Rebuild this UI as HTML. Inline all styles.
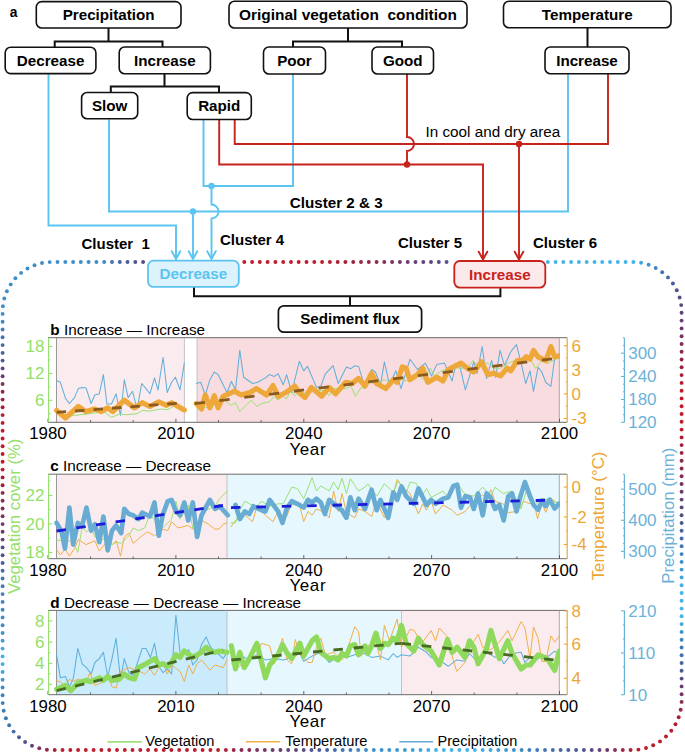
<!DOCTYPE html>
<html><head><meta charset="utf-8"><title>Figure</title>
<style>
html,body{margin:0;padding:0;background:#fff;}
body{width:685px;height:753px;overflow:hidden;font-family:"Liberation Sans",sans-serif;}
svg{display:block;}
</style></head><body>
<svg width="685" height="753" viewBox="0 0 685 753">
<rect width="685" height="753" fill="#fff"/>
<g>
<circle cx="57.5" cy="262.0" r="1.95" fill="rgb(61, 143, 201)"/>
<circle cx="65.3" cy="262.0" r="1.95" fill="rgb(61, 143, 201)"/>
<circle cx="73.1" cy="262.0" r="1.95" fill="rgb(61, 143, 201)"/>
<circle cx="80.8" cy="262.0" r="1.95" fill="rgb(61, 143, 201)"/>
<circle cx="88.6" cy="262.0" r="1.95" fill="rgb(61, 143, 201)"/>
<circle cx="96.4" cy="262.0" r="1.95" fill="rgb(61, 143, 201)"/>
<circle cx="104.2" cy="262.0" r="1.95" fill="rgb(63, 136, 196)"/>
<circle cx="112.0" cy="262.0" r="1.95" fill="rgb(68, 112, 176)"/>
<circle cx="119.8" cy="262.0" r="1.95" fill="rgb(71, 101, 162)"/>
<circle cx="127.5" cy="262.0" r="1.95" fill="rgb(74, 91, 149)"/>
<circle cx="135.3" cy="262.0" r="1.95" fill="rgb(81, 83, 139)"/>
<circle cx="143.1" cy="262.0" r="1.95" fill="rgb(89, 75, 129)"/>
<circle cx="244.3" cy="262.0" r="1.95" fill="rgb(188, 28, 44)"/>
<circle cx="252.1" cy="262.0" r="1.95" fill="rgb(188, 28, 44)"/>
<circle cx="259.8" cy="262.0" r="1.95" fill="rgb(188, 28, 44)"/>
<circle cx="267.6" cy="262.0" r="1.95" fill="rgb(188, 28, 44)"/>
<circle cx="275.4" cy="262.0" r="1.95" fill="rgb(188, 28, 44)"/>
<circle cx="283.2" cy="262.0" r="1.95" fill="rgb(188, 28, 44)"/>
<circle cx="291.0" cy="262.0" r="1.95" fill="rgb(188, 28, 44)"/>
<circle cx="298.7" cy="262.0" r="1.95" fill="rgb(188, 28, 44)"/>
<circle cx="306.5" cy="262.0" r="1.95" fill="rgb(188, 28, 44)"/>
<circle cx="314.3" cy="262.0" r="1.95" fill="rgb(188, 28, 44)"/>
<circle cx="322.1" cy="262.0" r="1.95" fill="rgb(188, 28, 44)"/>
<circle cx="329.9" cy="262.0" r="1.95" fill="rgb(183, 29, 46)"/>
<circle cx="337.7" cy="262.0" r="1.95" fill="rgb(174, 30, 50)"/>
<circle cx="345.4" cy="262.0" r="1.95" fill="rgb(165, 31, 54)"/>
<circle cx="353.2" cy="262.0" r="1.95" fill="rgb(157, 33, 59)"/>
<circle cx="361.0" cy="262.0" r="1.95" fill="rgb(150, 36, 67)"/>
<circle cx="368.8" cy="262.0" r="1.95" fill="rgb(143, 40, 74)"/>
<circle cx="376.6" cy="262.0" r="1.95" fill="rgb(136, 43, 82)"/>
<circle cx="384.3" cy="262.0" r="1.95" fill="rgb(129, 47, 89)"/>
<circle cx="392.1" cy="262.0" r="1.95" fill="rgb(121, 50, 97)"/>
<circle cx="399.9" cy="262.0" r="1.95" fill="rgb(114, 54, 104)"/>
<circle cx="407.7" cy="262.0" r="1.95" fill="rgb(106, 58, 112)"/>
<circle cx="415.5" cy="262.0" r="1.95" fill="rgb(102, 62, 116)"/>
<circle cx="423.3" cy="262.0" r="1.95" fill="rgb(98, 66, 120)"/>
<circle cx="431.0" cy="262.0" r="1.95" fill="rgb(94, 70, 124)"/>
<circle cx="438.8" cy="262.0" r="1.95" fill="rgb(91, 73, 127)"/>
<circle cx="446.6" cy="262.0" r="1.95" fill="rgb(88, 83, 137)"/>
<circle cx="547.8" cy="262.0" r="1.95" fill="rgb(69, 180, 234)"/>
<circle cx="555.6" cy="262.0" r="1.95" fill="rgb(69, 180, 234)"/>
<circle cx="563.3" cy="262.0" r="1.95" fill="rgb(69, 180, 234)"/>
<circle cx="571.1" cy="262.0" r="1.95" fill="rgb(69, 180, 234)"/>
<circle cx="578.9" cy="262.0" r="1.95" fill="rgb(69, 180, 234)"/>
<circle cx="586.7" cy="262.0" r="1.95" fill="rgb(69, 180, 234)"/>
<circle cx="594.5" cy="262.0" r="1.95" fill="rgb(69, 180, 234)"/>
<circle cx="602.2" cy="262.0" r="1.95" fill="rgb(69, 180, 234)"/>
<circle cx="610.0" cy="262.0" r="1.95" fill="rgb(69, 180, 234)"/>
<circle cx="617.8" cy="262.0" r="1.95" fill="rgb(69, 180, 234)"/>
<circle cx="625.6" cy="262.0" r="1.95" fill="rgb(69, 180, 234)"/>
<circle cx="633.4" cy="262.0" r="1.95" fill="rgb(69, 180, 234)"/>
<circle cx="641.1" cy="262.8" r="1.95" fill="rgb(66, 167, 223)"/>
<circle cx="648.6" cy="264.8" r="1.95" fill="rgb(62, 149, 206)"/>
<circle cx="655.7" cy="268.0" r="1.95" fill="rgb(64, 131, 192)"/>
<circle cx="662.2" cy="272.2" r="1.95" fill="rgb(67, 115, 178)"/>
<circle cx="668.0" cy="277.4" r="1.95" fill="rgb(71, 103, 164)"/>
<circle cx="672.9" cy="283.5" r="1.95" fill="rgb(74, 91, 150)"/>
<circle cx="676.8" cy="290.2" r="1.95" fill="rgb(79, 85, 141)"/>
<circle cx="679.6" cy="297.5" r="1.95" fill="rgb(86, 78, 134)"/>
<circle cx="681.2" cy="305.1" r="1.95" fill="rgb(91, 73, 127)"/>
<circle cx="681.6" cy="312.8" r="1.95" fill="rgb(97, 67, 121)"/>
<circle cx="681.6" cy="320.6" r="1.95" fill="rgb(102, 62, 116)"/>
<circle cx="681.6" cy="328.4" r="1.95" fill="rgb(109, 56, 109)"/>
<circle cx="681.6" cy="336.2" r="1.95" fill="rgb(119, 51, 99)"/>
<circle cx="681.6" cy="344.0" r="1.95" fill="rgb(129, 47, 89)"/>
<circle cx="681.6" cy="351.7" r="1.95" fill="rgb(139, 42, 79)"/>
<circle cx="681.6" cy="359.5" r="1.95" fill="rgb(148, 37, 69)"/>
<circle cx="681.6" cy="367.3" r="1.95" fill="rgb(158, 33, 58)"/>
<circle cx="681.6" cy="375.1" r="1.95" fill="rgb(168, 31, 53)"/>
<circle cx="681.6" cy="382.9" r="1.95" fill="rgb(178, 29, 48)"/>
<circle cx="681.6" cy="390.7" r="1.95" fill="rgb(188, 28, 44)"/>
<circle cx="681.6" cy="398.4" r="1.95" fill="rgb(188, 28, 44)"/>
<circle cx="681.6" cy="406.2" r="1.95" fill="rgb(188, 28, 44)"/>
<circle cx="681.6" cy="414.0" r="1.95" fill="rgb(188, 28, 44)"/>
<circle cx="681.6" cy="421.8" r="1.95" fill="rgb(188, 28, 44)"/>
<circle cx="681.6" cy="429.6" r="1.95" fill="rgb(188, 28, 44)"/>
<circle cx="681.6" cy="437.4" r="1.95" fill="rgb(174, 30, 50)"/>
<circle cx="681.6" cy="445.1" r="1.95" fill="rgb(160, 32, 56)"/>
<circle cx="681.6" cy="452.9" r="1.95" fill="rgb(153, 35, 64)"/>
<circle cx="681.6" cy="460.7" r="1.95" fill="rgb(146, 39, 72)"/>
<circle cx="681.6" cy="468.5" r="1.95" fill="rgb(138, 42, 79)"/>
<circle cx="681.6" cy="476.3" r="1.95" fill="rgb(129, 47, 89)"/>
<circle cx="681.6" cy="484.0" r="1.95" fill="rgb(119, 52, 99)"/>
<circle cx="681.6" cy="491.8" r="1.95" fill="rgb(109, 57, 109)"/>
<circle cx="681.6" cy="499.6" r="1.95" fill="rgb(100, 64, 119)"/>
<circle cx="681.6" cy="507.4" r="1.95" fill="rgb(91, 73, 129)"/>
<circle cx="681.6" cy="515.2" r="1.95" fill="rgb(83, 81, 138)"/>
<circle cx="681.6" cy="523.0" r="1.95" fill="rgb(74, 90, 148)"/>
<circle cx="681.6" cy="530.7" r="1.95" fill="rgb(72, 99, 159)"/>
<circle cx="681.6" cy="538.5" r="1.95" fill="rgb(69, 107, 170)"/>
<circle cx="681.6" cy="546.3" r="1.95" fill="rgb(67, 117, 180)"/>
<circle cx="681.6" cy="554.1" r="1.95" fill="rgb(64, 130, 191)"/>
<circle cx="681.6" cy="561.9" r="1.95" fill="rgb(61, 143, 201)"/>
<circle cx="681.6" cy="569.6" r="1.95" fill="rgb(63, 154, 211)"/>
<circle cx="681.6" cy="577.4" r="1.95" fill="rgb(66, 166, 221)"/>
<circle cx="681.6" cy="585.2" r="1.95" fill="rgb(68, 177, 232)"/>
<circle cx="681.6" cy="593.0" r="1.95" fill="rgb(69, 180, 234)"/>
<circle cx="681.6" cy="600.8" r="1.95" fill="rgb(69, 180, 234)"/>
<circle cx="681.6" cy="608.6" r="1.95" fill="rgb(69, 180, 234)"/>
<circle cx="681.6" cy="616.3" r="1.95" fill="rgb(69, 180, 234)"/>
<circle cx="681.6" cy="624.1" r="1.95" fill="rgb(66, 166, 222)"/>
<circle cx="681.6" cy="631.9" r="1.95" fill="rgb(62, 146, 204)"/>
<circle cx="681.6" cy="639.7" r="1.95" fill="rgb(63, 134, 194)"/>
<circle cx="681.6" cy="647.5" r="1.95" fill="rgb(65, 123, 185)"/>
<circle cx="681.6" cy="655.3" r="1.95" fill="rgb(68, 113, 177)"/>
<circle cx="681.6" cy="663.0" r="1.95" fill="rgb(71, 102, 164)"/>
<circle cx="681.6" cy="670.8" r="1.95" fill="rgb(74, 92, 150)"/>
<circle cx="681.6" cy="678.6" r="1.95" fill="rgb(87, 77, 133)"/>
<circle cx="681.6" cy="686.4" r="1.95" fill="rgb(103, 61, 116)"/>
<circle cx="681.6" cy="694.2" r="1.95" fill="rgb(118, 52, 100)"/>
<circle cx="681.6" cy="701.9" r="1.95" fill="rgb(134, 44, 84)"/>
<circle cx="680.7" cy="709.7" r="1.95" fill="rgb(149, 37, 68)"/>
<circle cx="678.7" cy="717.2" r="1.95" fill="rgb(164, 31, 54)"/>
<circle cx="675.5" cy="724.3" r="1.95" fill="rgb(175, 30, 50)"/>
<circle cx="671.3" cy="730.8" r="1.95" fill="rgb(186, 28, 45)"/>
<circle cx="666.0" cy="736.5" r="1.95" fill="rgb(188, 28, 44)"/>
<circle cx="660.0" cy="741.4" r="1.95" fill="rgb(188, 28, 44)"/>
<circle cx="653.2" cy="745.3" r="1.95" fill="rgb(188, 28, 44)"/>
<circle cx="646.0" cy="748.0" r="1.95" fill="rgb(188, 28, 44)"/>
<circle cx="638.4" cy="749.6" r="1.95" fill="rgb(188, 28, 44)"/>
<circle cx="630.6" cy="750.0" r="1.95" fill="rgb(180, 30, 50)"/>
<circle cx="622.8" cy="750.0" r="1.95" fill="rgb(154, 38, 68)"/>
<circle cx="615.0" cy="750.0" r="1.95" fill="rgb(132, 45, 86)"/>
<circle cx="607.2" cy="750.0" r="1.95" fill="rgb(115, 53, 103)"/>
<circle cx="599.5" cy="750.0" r="1.95" fill="rgb(101, 63, 117)"/>
<circle cx="591.7" cy="750.0" r="1.95" fill="rgb(92, 72, 128)"/>
<circle cx="583.9" cy="750.0" r="1.95" fill="rgb(82, 82, 140)"/>
<circle cx="576.1" cy="750.0" r="1.95" fill="rgb(74, 91, 150)"/>
<circle cx="568.3" cy="750.0" r="1.95" fill="rgb(72, 97, 157)"/>
<circle cx="560.6" cy="750.0" r="1.95" fill="rgb(71, 103, 164)"/>
<circle cx="552.8" cy="750.0" r="1.95" fill="rgb(69, 109, 172)"/>
<circle cx="545.0" cy="750.0" r="1.95" fill="rgb(67, 115, 178)"/>
<circle cx="537.2" cy="750.0" r="1.95" fill="rgb(66, 122, 184)"/>
<circle cx="529.4" cy="750.0" r="1.95" fill="rgb(64, 129, 190)"/>
<circle cx="521.6" cy="750.0" r="1.95" fill="rgb(62, 137, 196)"/>
<circle cx="513.9" cy="750.0" r="1.95" fill="rgb(61, 144, 202)"/>
<circle cx="506.1" cy="750.0" r="1.95" fill="rgb(63, 152, 209)"/>
<circle cx="498.3" cy="750.0" r="1.95" fill="rgb(65, 160, 216)"/>
<circle cx="490.5" cy="750.0" r="1.95" fill="rgb(66, 167, 223)"/>
<circle cx="482.7" cy="750.0" r="1.95" fill="rgb(68, 175, 230)"/>
<circle cx="474.9" cy="750.0" r="1.95" fill="rgb(69, 180, 234)"/>
<circle cx="467.2" cy="750.0" r="1.95" fill="rgb(69, 180, 234)"/>
<circle cx="459.4" cy="750.0" r="1.95" fill="rgb(69, 180, 234)"/>
<circle cx="451.6" cy="750.0" r="1.95" fill="rgb(69, 180, 234)"/>
<circle cx="443.8" cy="750.0" r="1.95" fill="rgb(69, 180, 234)"/>
<circle cx="436.0" cy="750.0" r="1.95" fill="rgb(68, 179, 233)"/>
<circle cx="428.3" cy="750.0" r="1.95" fill="rgb(66, 173, 228)"/>
<circle cx="420.5" cy="750.0" r="1.95" fill="rgb(64, 167, 224)"/>
<circle cx="412.7" cy="750.0" r="1.95" fill="rgb(62, 161, 219)"/>
<circle cx="404.9" cy="750.0" r="1.95" fill="rgb(59, 156, 215)"/>
<circle cx="397.1" cy="750.0" r="1.95" fill="rgb(58, 151, 211)"/>
<circle cx="389.3" cy="750.0" r="1.95" fill="rgb(59, 149, 209)"/>
<circle cx="381.6" cy="750.0" r="1.95" fill="rgb(60, 147, 206)"/>
<circle cx="373.8" cy="750.0" r="1.95" fill="rgb(60, 145, 204)"/>
<circle cx="366.0" cy="750.0" r="1.95" fill="rgb(61, 143, 201)"/>
<circle cx="358.2" cy="750.0" r="1.95" fill="rgb(63, 135, 194)"/>
<circle cx="350.4" cy="750.0" r="1.95" fill="rgb(65, 125, 186)"/>
<circle cx="342.7" cy="750.0" r="1.95" fill="rgb(67, 115, 179)"/>
<circle cx="334.9" cy="750.0" r="1.95" fill="rgb(69, 107, 169)"/>
<circle cx="327.1" cy="750.0" r="1.95" fill="rgb(72, 99, 160)"/>
<circle cx="319.3" cy="750.0" r="1.95" fill="rgb(74, 91, 150)"/>
<circle cx="311.5" cy="750.0" r="1.95" fill="rgb(80, 84, 141)"/>
<circle cx="303.7" cy="750.0" r="1.95" fill="rgb(87, 77, 132)"/>
<circle cx="296.0" cy="750.0" r="1.95" fill="rgb(93, 71, 125)"/>
<circle cx="288.2" cy="750.0" r="1.95" fill="rgb(98, 66, 120)"/>
<circle cx="280.4" cy="750.0" r="1.95" fill="rgb(103, 61, 115)"/>
<circle cx="272.6" cy="750.0" r="1.95" fill="rgb(108, 57, 110)"/>
<circle cx="264.8" cy="750.0" r="1.95" fill="rgb(115, 53, 103)"/>
<circle cx="257.1" cy="750.0" r="1.95" fill="rgb(122, 50, 96)"/>
<circle cx="249.3" cy="750.0" r="1.95" fill="rgb(130, 46, 88)"/>
<circle cx="241.5" cy="750.0" r="1.95" fill="rgb(137, 43, 81)"/>
<circle cx="233.7" cy="750.0" r="1.95" fill="rgb(155, 37, 67)"/>
<circle cx="225.9" cy="750.0" r="1.95" fill="rgb(177, 31, 52)"/>
<circle cx="218.1" cy="750.0" r="1.95" fill="rgb(188, 28, 44)"/>
<circle cx="210.4" cy="750.0" r="1.95" fill="rgb(188, 28, 44)"/>
<circle cx="202.6" cy="750.0" r="1.95" fill="rgb(188, 28, 44)"/>
<circle cx="194.8" cy="750.0" r="1.95" fill="rgb(188, 28, 44)"/>
<circle cx="187.0" cy="750.0" r="1.95" fill="rgb(188, 28, 44)"/>
<circle cx="179.2" cy="750.0" r="1.95" fill="rgb(188, 28, 44)"/>
<circle cx="171.4" cy="750.0" r="1.95" fill="rgb(188, 28, 44)"/>
<circle cx="163.7" cy="750.0" r="1.95" fill="rgb(188, 28, 44)"/>
<circle cx="155.9" cy="750.0" r="1.95" fill="rgb(188, 28, 44)"/>
<circle cx="148.1" cy="750.0" r="1.95" fill="rgb(188, 28, 44)"/>
<circle cx="140.3" cy="750.0" r="1.95" fill="rgb(188, 28, 44)"/>
<circle cx="132.5" cy="750.0" r="1.95" fill="rgb(188, 28, 44)"/>
<circle cx="124.8" cy="750.0" r="1.95" fill="rgb(188, 28, 44)"/>
<circle cx="117.0" cy="750.0" r="1.95" fill="rgb(188, 28, 44)"/>
<circle cx="109.2" cy="750.0" r="1.95" fill="rgb(188, 28, 44)"/>
<circle cx="101.4" cy="750.0" r="1.95" fill="rgb(188, 28, 44)"/>
<circle cx="93.6" cy="750.0" r="1.95" fill="rgb(188, 28, 44)"/>
<circle cx="85.8" cy="750.0" r="1.95" fill="rgb(188, 28, 44)"/>
<circle cx="78.1" cy="750.0" r="1.95" fill="rgb(188, 28, 44)"/>
<circle cx="70.3" cy="750.0" r="1.95" fill="rgb(188, 28, 44)"/>
<circle cx="62.5" cy="750.0" r="1.95" fill="rgb(188, 28, 44)"/>
<circle cx="54.7" cy="750.0" r="1.95" fill="rgb(172, 30, 51)"/>
<circle cx="46.9" cy="749.7" r="1.95" fill="rgb(148, 37, 69)"/>
<circle cx="39.3" cy="748.3" r="1.95" fill="rgb(121, 50, 97)"/>
<circle cx="32.0" cy="745.7" r="1.95" fill="rgb(98, 66, 120)"/>
<circle cx="25.1" cy="742.0" r="1.95" fill="rgb(82, 82, 138)"/>
<circle cx="19.0" cy="737.3" r="1.95" fill="rgb(74, 98, 154)"/>
<circle cx="13.6" cy="731.6" r="1.95" fill="rgb(70, 109, 164)"/>
<circle cx="9.2" cy="725.2" r="1.95" fill="rgb(62, 117, 172)"/>
<circle cx="5.9" cy="718.2" r="1.95" fill="rgb(58, 122, 179)"/>
<circle cx="3.7" cy="710.8" r="1.95" fill="rgb(58, 125, 183)"/>
<circle cx="2.7" cy="703.1" r="1.95" fill="rgb(58, 129, 188)"/>
<circle cx="2.6" cy="695.3" r="1.95" fill="rgb(59, 134, 194)"/>
<circle cx="2.6" cy="687.5" r="1.95" fill="rgb(61, 142, 200)"/>
<circle cx="2.6" cy="679.7" r="1.95" fill="rgb(63, 151, 208)"/>
<circle cx="2.6" cy="671.9" r="1.95" fill="rgb(65, 162, 218)"/>
<circle cx="2.6" cy="664.1" r="1.95" fill="rgb(67, 172, 227)"/>
<circle cx="2.6" cy="656.4" r="1.95" fill="rgb(69, 178, 232)"/>
<circle cx="2.6" cy="648.6" r="1.95" fill="rgb(67, 169, 224)"/>
<circle cx="2.6" cy="640.8" r="1.95" fill="rgb(65, 160, 216)"/>
<circle cx="2.6" cy="633.0" r="1.95" fill="rgb(63, 151, 208)"/>
<circle cx="2.6" cy="625.2" r="1.95" fill="rgb(61, 143, 201)"/>
<circle cx="2.6" cy="617.4" r="1.95" fill="rgb(64, 139, 198)"/>
<circle cx="2.6" cy="609.7" r="1.95" fill="rgb(66, 134, 195)"/>
<circle cx="2.6" cy="601.9" r="1.95" fill="rgb(68, 130, 192)"/>
<circle cx="2.6" cy="594.1" r="1.95" fill="rgb(70, 126, 189)"/>
<circle cx="2.6" cy="586.3" r="1.95" fill="rgb(73, 122, 186)"/>
<circle cx="2.6" cy="578.5" r="1.95" fill="rgb(74, 115, 178)"/>
<circle cx="2.6" cy="570.8" r="1.95" fill="rgb(74, 105, 166)"/>
<circle cx="2.6" cy="563.0" r="1.95" fill="rgb(74, 94, 153)"/>
<circle cx="2.6" cy="555.2" r="1.95" fill="rgb(80, 84, 142)"/>
<circle cx="2.6" cy="547.4" r="1.95" fill="rgb(89, 75, 131)"/>
<circle cx="2.6" cy="539.6" r="1.95" fill="rgb(98, 66, 121)"/>
<circle cx="2.6" cy="531.8" r="1.95" fill="rgb(107, 57, 111)"/>
<circle cx="2.6" cy="524.1" r="1.95" fill="rgb(115, 54, 103)"/>
<circle cx="2.6" cy="516.3" r="1.95" fill="rgb(122, 50, 96)"/>
<circle cx="2.6" cy="508.5" r="1.95" fill="rgb(130, 46, 88)"/>
<circle cx="2.6" cy="500.7" r="1.95" fill="rgb(137, 42, 81)"/>
<circle cx="2.6" cy="492.9" r="1.95" fill="rgb(148, 37, 69)"/>
<circle cx="2.6" cy="485.2" r="1.95" fill="rgb(160, 32, 56)"/>
<circle cx="2.6" cy="477.4" r="1.95" fill="rgb(175, 30, 49)"/>
<circle cx="2.6" cy="469.6" r="1.95" fill="rgb(188, 28, 44)"/>
<circle cx="2.6" cy="461.8" r="1.95" fill="rgb(188, 28, 44)"/>
<circle cx="2.6" cy="454.0" r="1.95" fill="rgb(188, 28, 44)"/>
<circle cx="2.6" cy="446.2" r="1.95" fill="rgb(188, 28, 44)"/>
<circle cx="2.6" cy="438.5" r="1.95" fill="rgb(188, 28, 44)"/>
<circle cx="2.6" cy="430.7" r="1.95" fill="rgb(188, 28, 44)"/>
<circle cx="2.6" cy="422.9" r="1.95" fill="rgb(183, 29, 46)"/>
<circle cx="2.6" cy="415.1" r="1.95" fill="rgb(175, 30, 50)"/>
<circle cx="2.6" cy="407.3" r="1.95" fill="rgb(166, 31, 53)"/>
<circle cx="2.6" cy="399.6" r="1.95" fill="rgb(156, 34, 61)"/>
<circle cx="2.6" cy="391.8" r="1.95" fill="rgb(141, 41, 76)"/>
<circle cx="2.6" cy="384.0" r="1.95" fill="rgb(122, 50, 96)"/>
<circle cx="2.6" cy="376.2" r="1.95" fill="rgb(103, 61, 115)"/>
<circle cx="2.6" cy="368.4" r="1.95" fill="rgb(91, 73, 129)"/>
<circle cx="2.6" cy="360.6" r="1.95" fill="rgb(78, 86, 143)"/>
<circle cx="2.6" cy="352.9" r="1.95" fill="rgb(72, 96, 156)"/>
<circle cx="2.6" cy="345.1" r="1.95" fill="rgb(70, 106, 168)"/>
<circle cx="2.6" cy="337.3" r="1.95" fill="rgb(67, 116, 179)"/>
<circle cx="2.6" cy="329.5" r="1.95" fill="rgb(65, 127, 188)"/>
<circle cx="2.6" cy="321.7" r="1.95" fill="rgb(62, 138, 197)"/>
<circle cx="2.6" cy="313.9" r="1.95" fill="rgb(61, 143, 201)"/>
<circle cx="2.9" cy="306.2" r="1.95" fill="rgb(61, 143, 201)"/>
<circle cx="4.3" cy="298.5" r="1.95" fill="rgb(61, 143, 201)"/>
<circle cx="6.9" cy="291.2" r="1.95" fill="rgb(61, 143, 201)"/>
<circle cx="10.7" cy="284.4" r="1.95" fill="rgb(61, 143, 201)"/>
<circle cx="15.4" cy="278.2" r="1.95" fill="rgb(61, 143, 201)"/>
<circle cx="21.1" cy="272.9" r="1.95" fill="rgb(61, 143, 201)"/>
<circle cx="27.5" cy="268.5" r="1.95" fill="rgb(61, 143, 201)"/>
<circle cx="34.5" cy="265.2" r="1.95" fill="rgb(61, 143, 201)"/>
<circle cx="42.0" cy="263.0" r="1.95" fill="rgb(61, 143, 201)"/>
<circle cx="49.7" cy="262.1" r="1.95" fill="rgb(61, 143, 201)"/>
</g>
<path d="M108.5,28 V41.5 M54.7,47 V41.5 H162.5 V47" fill="none" stroke="#111" stroke-width="2.0" stroke-linejoin="miter" />
<path d="M164.5,73 V86.5 M110.8,92.5 V86.5 H219 V92.5" fill="none" stroke="#111" stroke-width="2.0" stroke-linejoin="miter" />
<path d="M348,28 V41.5 M293,47 V41.5 H402 V47" fill="none" stroke="#111" stroke-width="2.0" stroke-linejoin="miter" />
<path d="M587.5,28 V47" fill="none" stroke="#111" stroke-width="2.0" stroke-linejoin="miter" />
<path d="M194,287 V296.2 H500.4 V288 M350,296.2 V305.8" fill="none" stroke="#111" stroke-width="2.0" stroke-linejoin="miter" />
<path d="M48.5,74 V225.5 H176 V257.5" fill="none" stroke="#5bc4f0" stroke-width="1.9" stroke-linejoin="miter" />
<path d="M109,119.5 V211.5 H568 V74" fill="none" stroke="#5bc4f0" stroke-width="1.9" stroke-linejoin="miter" />
<path d="M193,211.5 V257.5" fill="none" stroke="#5bc4f0" stroke-width="1.9" stroke-linejoin="miter" />
<path d="M203.5,119.5 V186 H293 V74" fill="none" stroke="#5bc4f0" stroke-width="1.9" stroke-linejoin="miter" />
<path d="M211.5,186 V204.5 A7,7 0 0 1 211.5,218.5 V257.5" fill="none" stroke="#5bc4f0" stroke-width="1.9" stroke-linejoin="miter" />
<path d="M171.7,251.2 L176,259 L180.3,251.2" fill="none" stroke="#5bc4f0" stroke-width="1.9" stroke-linecap="round" stroke-linejoin="miter"/>
<path d="M188.7,251.2 L193,259 L197.3,251.2" fill="none" stroke="#5bc4f0" stroke-width="1.9" stroke-linecap="round" stroke-linejoin="miter"/>
<path d="M207.2,251.2 L211.5,259 L215.8,251.2" fill="none" stroke="#5bc4f0" stroke-width="1.9" stroke-linecap="round" stroke-linejoin="miter"/>
<circle cx="193" cy="211.5" r="3.2" fill="#5bc4f0"/>
<circle cx="211.5" cy="186" r="3.2" fill="#5bc4f0"/>
<path d="M219.2,119.5 V164.5 H483 V258" fill="none" stroke="#c8221c" stroke-width="1.9" stroke-linejoin="miter" />
<path d="M234.7,119.5 V144 H608 V74" fill="none" stroke="#c8221c" stroke-width="1.9" stroke-linejoin="miter" />
<path d="M407,74 V137 A7,7 0 0 1 407,151 V164.5" fill="none" stroke="#c8221c" stroke-width="1.9" stroke-linejoin="miter" />
<path d="M519,144 V258" fill="none" stroke="#c8221c" stroke-width="1.9" stroke-linejoin="miter" />
<path d="M478.7,251.7 L483,259.5 L487.3,251.7" fill="none" stroke="#c8221c" stroke-width="1.9" stroke-linecap="round" stroke-linejoin="miter"/>
<path d="M514.7,251.7 L519,259.5 L523.3,251.7" fill="none" stroke="#c8221c" stroke-width="1.9" stroke-linecap="round" stroke-linejoin="miter"/>
<circle cx="407" cy="164.5" r="3.2" fill="#c8221c"/>
<circle cx="519" cy="144" r="3.2" fill="#c8221c"/>
<rect x="36.3" y="1.6" width="144.7" height="26.4" rx="5.5" ry="5.5" fill="#fff" stroke="#111" stroke-width="1.6"/>
<text x="108.65" y="20.196" text-anchor="middle" font-weight="bold" font-size="15.2" fill="#000" style="font-family:'Liberation Sans',sans-serif">Precipitation</text>
<rect x="5.2" y="47.2" width="90.7" height="26.39999999999999" rx="5.5" ry="5.5" fill="#fff" stroke="#111" stroke-width="1.6"/>
<text x="50.550000000000004" y="65.79599999999999" text-anchor="middle" font-weight="bold" font-size="15.2" fill="#000" style="font-family:'Liberation Sans',sans-serif">Decrease</text>
<rect x="119.2" y="47" width="91.2" height="26.700000000000003" rx="5.5" ry="5.5" fill="#fff" stroke="#111" stroke-width="1.6"/>
<text x="164.8" y="65.746" text-anchor="middle" font-weight="bold" font-size="15.2" fill="#000" style="font-family:'Liberation Sans',sans-serif">Increase</text>
<rect x="81.6" y="92.5" width="56.099999999999994" height="26.200000000000003" rx="5.5" ry="5.5" fill="#fff" stroke="#111" stroke-width="1.6"/>
<text x="109.64999999999999" y="110.996" text-anchor="middle" font-weight="bold" font-size="15.2" fill="#000" style="font-family:'Liberation Sans',sans-serif">Slow</text>
<rect x="187.2" y="92.6" width="64.10000000000002" height="26.900000000000006" rx="5.5" ry="5.5" fill="#fff" stroke="#111" stroke-width="1.6"/>
<text x="219.25" y="111.446" text-anchor="middle" font-weight="bold" font-size="15.2" fill="#000" style="font-family:'Liberation Sans',sans-serif">Rapid</text>
<rect x="229" y="1.3" width="238" height="26.7" rx="5.5" ry="5.5" fill="#fff" stroke="#111" stroke-width="1.6"/>
<text x="348.0" y="20.13475" text-anchor="middle" font-weight="bold" font-size="15.45" fill="#000" style="font-family:'Liberation Sans',sans-serif" xml:space="preserve">Original vegetation  condition</text>
<rect x="263.5" y="47" width="62.0" height="27" rx="5.5" ry="5.5" fill="#fff" stroke="#111" stroke-width="1.6"/>
<text x="294.5" y="65.896" text-anchor="middle" font-weight="bold" font-size="15.2" fill="#000" style="font-family:'Liberation Sans',sans-serif">Poor</text>
<rect x="372" y="47" width="61.5" height="27" rx="5.5" ry="5.5" fill="#fff" stroke="#111" stroke-width="1.6"/>
<text x="402.75" y="65.896" text-anchor="middle" font-weight="bold" font-size="15.2" fill="#000" style="font-family:'Liberation Sans',sans-serif">Good</text>
<rect x="503.5" y="1.3" width="167.5" height="26.4" rx="5.5" ry="5.5" fill="#fff" stroke="#111" stroke-width="1.6"/>
<text x="587.25" y="19.896" text-anchor="middle" font-weight="bold" font-size="15.2" fill="#000" style="font-family:'Liberation Sans',sans-serif">Temperature</text>
<rect x="545" y="47" width="84" height="26.700000000000003" rx="5.5" ry="5.5" fill="#fff" stroke="#111" stroke-width="1.6"/>
<text x="587.0" y="65.746" text-anchor="middle" font-weight="bold" font-size="15.2" fill="#000" style="font-family:'Liberation Sans',sans-serif">Increase</text>
<rect x="148" y="260.7" width="90.80000000000001" height="26.19999999999999" rx="5.5" ry="5.5" fill="#dcf2fc" stroke="#5bc4f0" stroke-width="1.8"/>
<text x="193.4" y="279.19599999999997" text-anchor="middle" font-weight="bold" font-size="15.2" fill="#5bc4f0" style="font-family:'Liberation Sans',sans-serif">Decrease</text>
<rect x="454.3" y="261" width="90.99999999999994" height="26.600000000000023" rx="5.5" ry="5.5" fill="#fce9e9" stroke="#c8221c" stroke-width="1.8"/>
<text x="499.79999999999995" y="279.696" text-anchor="middle" font-weight="bold" font-size="15.2" fill="#c8221c" style="font-family:'Liberation Sans',sans-serif">Increase</text>
<rect x="278.4" y="305.8" width="143.20000000000005" height="26.399999999999977" rx="5.5" ry="5.5" fill="#fff" stroke="#111" stroke-width="1.7"/>
<text x="350.0" y="324.396" text-anchor="middle" font-weight="bold" font-size="15.2" fill="#000" style="font-family:'Liberation Sans',sans-serif">Sediment flux</text>
<text x="9.8" y="17.3" font-size="13.8" text-anchor="start" fill="#000" font-weight="bold" style="font-family:'Liberation Sans',sans-serif" >a</text>
<text x="425.5" y="137" font-size="15.25" text-anchor="start" fill="#000" style="font-family:'Liberation Sans',sans-serif" >In cool and dry area</text>
<text x="289.8" y="207.6" font-size="15.2" text-anchor="start" fill="#000" font-weight="bold" style="font-family:'Liberation Sans',sans-serif" >Cluster 2 &amp; 3</text>
<text x="81.5" y="248.5" font-size="15.0" text-anchor="start" fill="#000" font-weight="bold" style="font-family:'Liberation Sans',sans-serif" xml:space="preserve">Cluster  1</text>
<text x="220" y="245" font-size="15.0" text-anchor="start" fill="#000" font-weight="bold" style="font-family:'Liberation Sans',sans-serif" >Cluster 4</text>
<text x="398" y="248" font-size="15.0" text-anchor="start" fill="#000" font-weight="bold" style="font-family:'Liberation Sans',sans-serif" >Cluster 5</text>
<text x="533" y="248" font-size="15.0" text-anchor="start" fill="#000" font-weight="bold" style="font-family:'Liberation Sans',sans-serif" >Cluster 6</text>
<rect x="56.5" y="337.7" width="127.9" height="84.60000000000002" fill="#faecee"/>
<rect x="197" y="337.7" width="362.29999999999995" height="84.60000000000002" fill="#f8dcdf"/>
<path d="M48.0,337.7 H567.2" stroke="#5a5a5a" stroke-width="0.9" fill="none"/>
<path d="M56.5,337.7 V422.3" stroke="#808080" stroke-width="0.8" fill="none"/>
<path d="M559.3,337.7 V422.3" stroke="#a0a0a0" stroke-width="0.9" fill="none"/>
<path d="M184.4,337.7 V422.3" stroke="#b4b8bb" stroke-width="0.8" fill="none"/>
<path d="M197,337.7 V422.3" stroke="#b4b8bb" stroke-width="0.8" fill="none"/>
<path d="M48.0,422.3 H567.2" stroke="#6a6a6a" stroke-width="1" fill="none"/>
<path d="M48.0,422.3 v-3.6" stroke="#555" stroke-width="0.9"/>
<path d="M90.6,422.3 v-2.2" stroke="#555" stroke-width="0.9"/>
<path d="M133.2,422.3 v-2.2" stroke="#555" stroke-width="0.9"/>
<path d="M175.9,422.3 v-3.6" stroke="#555" stroke-width="0.9"/>
<path d="M218.5,422.3 v-2.2" stroke="#555" stroke-width="0.9"/>
<path d="M261.1,422.3 v-2.2" stroke="#555" stroke-width="0.9"/>
<path d="M303.8,422.3 v-3.6" stroke="#555" stroke-width="0.9"/>
<path d="M346.4,422.3 v-2.2" stroke="#555" stroke-width="0.9"/>
<path d="M389.0,422.3 v-2.2" stroke="#555" stroke-width="0.9"/>
<path d="M431.6,422.3 v-3.6" stroke="#555" stroke-width="0.9"/>
<path d="M474.2,422.3 v-2.2" stroke="#555" stroke-width="0.9"/>
<path d="M516.9,422.3 v-2.2" stroke="#555" stroke-width="0.9"/>
<path d="M559.5,422.3 v-3.6" stroke="#555" stroke-width="0.9"/>
<text x="48.0" y="439.3" font-size="16.85" text-anchor="middle" fill="#000" style="font-family:'Liberation Sans',sans-serif" >1980</text>
<text x="175.9" y="439.3" font-size="16.85" text-anchor="middle" fill="#000" style="font-family:'Liberation Sans',sans-serif" >2010</text>
<text x="303.8" y="439.3" font-size="16.85" text-anchor="middle" fill="#000" style="font-family:'Liberation Sans',sans-serif" >2040</text>
<text x="431.6" y="439.3" font-size="16.85" text-anchor="middle" fill="#000" style="font-family:'Liberation Sans',sans-serif" >2070</text>
<text x="559.5" y="439.3" font-size="16.85" text-anchor="middle" fill="#000" style="font-family:'Liberation Sans',sans-serif" >2100</text>
<text x="307.8" y="454.7" font-size="17.0" text-anchor="middle" fill="#000" style="font-family:'Liberation Sans',sans-serif" letter-spacing="0.6">Year</text>
<text x="50.3" y="335.3" font-size="15.3" style="font-family:'Liberation Sans',sans-serif"><tspan font-weight="bold">b</tspan> Increase — Increase</text>
<path d="M48.6,337.7 V422.3" stroke="#93e06a" stroke-width="1.1" fill="none"/>
<path d="M49.0,346.5 h3.4" stroke="#93e06a" stroke-width="1.1"/>
<text x="44.5" y="352.4" font-size="17.0" text-anchor="end" fill="#93e06a" style="font-family:'Liberation Sans',sans-serif" >18</text>
<path d="M49.0,359.9 h1.5" stroke="#93e06a" stroke-width="1"/>
<path d="M49.0,373.4 h3.4" stroke="#93e06a" stroke-width="1.1"/>
<text x="44.5" y="379.29999999999995" font-size="17.0" text-anchor="end" fill="#93e06a" style="font-family:'Liberation Sans',sans-serif" >12</text>
<path d="M49.0,386.9 h1.5" stroke="#93e06a" stroke-width="1"/>
<path d="M49.0,400.3 h3.4" stroke="#93e06a" stroke-width="1.1"/>
<text x="44.5" y="406.2" font-size="17.0" text-anchor="end" fill="#93e06a" style="font-family:'Liberation Sans',sans-serif" >6</text>
<path d="M49.0,413.7 h1.5" stroke="#93e06a" stroke-width="1"/>
<path d="M567.2,337.7 V422.3" stroke="#eda535" stroke-width="1.2" fill="none"/>
<path d="M567.2,345.8 h-3.4" stroke="#eda535" stroke-width="1.1"/>
<text x="571.5" y="351.7" font-size="17.0" text-anchor="start" fill="#eda535" style="font-family:'Liberation Sans',sans-serif" >6</text>
<path d="M567.2,357.9 h-1.5" stroke="#eda535" stroke-width="1"/>
<path d="M567.2,370 h-3.4" stroke="#eda535" stroke-width="1.1"/>
<text x="571.5" y="375.9" font-size="17.0" text-anchor="start" fill="#eda535" style="font-family:'Liberation Sans',sans-serif" >3</text>
<path d="M567.2,381.9 h-1.5" stroke="#eda535" stroke-width="1"/>
<path d="M567.2,393.9 h-3.4" stroke="#eda535" stroke-width="1.1"/>
<text x="571.5" y="399.79999999999995" font-size="17.0" text-anchor="start" fill="#eda535" style="font-family:'Liberation Sans',sans-serif" >0</text>
<path d="M567.2,406.1 h-1.5" stroke="#eda535" stroke-width="1"/>
<path d="M567.2,418.4 h-3.4" stroke="#eda535" stroke-width="1.1"/>
<text x="571.5" y="424.29999999999995" font-size="17.0" text-anchor="start" fill="#eda535" style="font-family:'Liberation Sans',sans-serif" >-3</text>
<path d="M624.4,337.7 V422.3" stroke="#6cb2d8" stroke-width="1.2" fill="none"/>
<path d="M624.4,337.7 h-1.5" stroke="#6cb2d8" stroke-width="1"/>
<path d="M624.4,345.4 h-1.5" stroke="#6cb2d8" stroke-width="1"/>
<path d="M624.4,353.2 h-3.4" stroke="#6cb2d8" stroke-width="1.1"/>
<text x="628.2" y="359.09999999999997" font-size="17.0" text-anchor="start" fill="#6cb2d8" style="font-family:'Liberation Sans',sans-serif" >300</text>
<path d="M624.4,361.0 h-1.5" stroke="#6cb2d8" stroke-width="1"/>
<path d="M624.4,368.7 h-1.5" stroke="#6cb2d8" stroke-width="1"/>
<path d="M624.4,376.5 h-3.4" stroke="#6cb2d8" stroke-width="1.1"/>
<text x="628.2" y="382.4" font-size="17.0" text-anchor="start" fill="#6cb2d8" style="font-family:'Liberation Sans',sans-serif" >240</text>
<path d="M624.4,384.2 h-1.5" stroke="#6cb2d8" stroke-width="1"/>
<path d="M624.4,391.8 h-1.5" stroke="#6cb2d8" stroke-width="1"/>
<path d="M624.4,399.5 h-3.4" stroke="#6cb2d8" stroke-width="1.1"/>
<text x="628.2" y="405.4" font-size="17.0" text-anchor="start" fill="#6cb2d8" style="font-family:'Liberation Sans',sans-serif" >180</text>
<path d="M624.4,407.1 h-1.5" stroke="#6cb2d8" stroke-width="1"/>
<path d="M624.4,414.7 h-1.5" stroke="#6cb2d8" stroke-width="1"/>
<path d="M624.4,422.3 h-3.4" stroke="#6cb2d8" stroke-width="1.1"/>
<text x="628.2" y="428.2" font-size="17.0" text-anchor="start" fill="#6cb2d8" style="font-family:'Liberation Sans',sans-serif" >120</text>
<rect x="56.5" y="474.2" width="170.5" height="84.50000000000006" fill="#faecee"/>
<rect x="227" y="474.2" width="332.29999999999995" height="84.50000000000006" fill="#e6f7fd"/>
<path d="M48.0,474.2 H567.2" stroke="#5a5a5a" stroke-width="0.9" fill="none"/>
<path d="M56.5,474.2 V558.7" stroke="#808080" stroke-width="0.8" fill="none"/>
<path d="M559.3,474.2 V558.7" stroke="#a0a0a0" stroke-width="0.9" fill="none"/>
<path d="M227,474.2 V558.7" stroke="#b4b8bb" stroke-width="0.8" fill="none"/>
<path d="M48.0,558.7 H567.2" stroke="#6a6a6a" stroke-width="1" fill="none"/>
<path d="M48.0,558.7 v-3.6" stroke="#555" stroke-width="0.9"/>
<path d="M90.6,558.7 v-2.2" stroke="#555" stroke-width="0.9"/>
<path d="M133.2,558.7 v-2.2" stroke="#555" stroke-width="0.9"/>
<path d="M175.9,558.7 v-3.6" stroke="#555" stroke-width="0.9"/>
<path d="M218.5,558.7 v-2.2" stroke="#555" stroke-width="0.9"/>
<path d="M261.1,558.7 v-2.2" stroke="#555" stroke-width="0.9"/>
<path d="M303.8,558.7 v-3.6" stroke="#555" stroke-width="0.9"/>
<path d="M346.4,558.7 v-2.2" stroke="#555" stroke-width="0.9"/>
<path d="M389.0,558.7 v-2.2" stroke="#555" stroke-width="0.9"/>
<path d="M431.6,558.7 v-3.6" stroke="#555" stroke-width="0.9"/>
<path d="M474.2,558.7 v-2.2" stroke="#555" stroke-width="0.9"/>
<path d="M516.9,558.7 v-2.2" stroke="#555" stroke-width="0.9"/>
<path d="M559.5,558.7 v-3.6" stroke="#555" stroke-width="0.9"/>
<text x="48.0" y="575.7" font-size="16.85" text-anchor="middle" fill="#000" style="font-family:'Liberation Sans',sans-serif" >1980</text>
<text x="175.9" y="575.7" font-size="16.85" text-anchor="middle" fill="#000" style="font-family:'Liberation Sans',sans-serif" >2010</text>
<text x="303.8" y="575.7" font-size="16.85" text-anchor="middle" fill="#000" style="font-family:'Liberation Sans',sans-serif" >2040</text>
<text x="431.6" y="575.7" font-size="16.85" text-anchor="middle" fill="#000" style="font-family:'Liberation Sans',sans-serif" >2070</text>
<text x="559.5" y="575.7" font-size="16.85" text-anchor="middle" fill="#000" style="font-family:'Liberation Sans',sans-serif" >2100</text>
<text x="307.8" y="591.1" font-size="17.0" text-anchor="middle" fill="#000" style="font-family:'Liberation Sans',sans-serif" letter-spacing="0.6">Year</text>
<text x="50.3" y="470.5" font-size="15.3" style="font-family:'Liberation Sans',sans-serif"><tspan font-weight="bold">c</tspan> Increase — Decrease</text>
<path d="M48.6,474.2 V558.7" stroke="#93e06a" stroke-width="1.1" fill="none"/>
<path d="M49.0,481 h1.5" stroke="#93e06a" stroke-width="1"/>
<path d="M49.0,495.5 h3.4" stroke="#93e06a" stroke-width="1.1"/>
<text x="44.5" y="501.4" font-size="17.0" text-anchor="end" fill="#93e06a" style="font-family:'Liberation Sans',sans-serif" >22</text>
<path d="M49.0,509.6 h1.5" stroke="#93e06a" stroke-width="1"/>
<path d="M49.0,523.8 h3.4" stroke="#93e06a" stroke-width="1.1"/>
<text x="44.5" y="529.6999999999999" font-size="17.0" text-anchor="end" fill="#93e06a" style="font-family:'Liberation Sans',sans-serif" >20</text>
<path d="M49.0,538.1 h1.5" stroke="#93e06a" stroke-width="1"/>
<path d="M49.0,552.4 h3.4" stroke="#93e06a" stroke-width="1.1"/>
<text x="44.5" y="558.3" font-size="17.0" text-anchor="end" fill="#93e06a" style="font-family:'Liberation Sans',sans-serif" >18</text>
<path d="M567.2,474.2 V558.7" stroke="#eda535" stroke-width="1.2" fill="none"/>
<path d="M567.2,487 h-3.4" stroke="#eda535" stroke-width="1.1"/>
<text x="571.5" y="492.9" font-size="17.0" text-anchor="start" fill="#eda535" style="font-family:'Liberation Sans',sans-serif" >0</text>
<path d="M567.2,502.0 h-1.5" stroke="#eda535" stroke-width="1"/>
<path d="M567.2,517.0 h-3.4" stroke="#eda535" stroke-width="1.1"/>
<text x="571.5" y="522.9" font-size="17.0" text-anchor="start" fill="#eda535" style="font-family:'Liberation Sans',sans-serif" >-2</text>
<path d="M567.2,530.8 h-1.5" stroke="#eda535" stroke-width="1"/>
<path d="M567.2,544.5 h-3.4" stroke="#eda535" stroke-width="1.1"/>
<text x="571.5" y="550.4" font-size="17.0" text-anchor="start" fill="#eda535" style="font-family:'Liberation Sans',sans-serif" >-4</text>
<path d="M624.4,474.2 V558.7" stroke="#6cb2d8" stroke-width="1.2" fill="none"/>
<path d="M624.4,474.2 h-1.5" stroke="#6cb2d8" stroke-width="1"/>
<path d="M624.4,481.7 h-1.5" stroke="#6cb2d8" stroke-width="1"/>
<path d="M624.4,489.2 h-3.4" stroke="#6cb2d8" stroke-width="1.1"/>
<text x="628.2" y="495.09999999999997" font-size="17.0" text-anchor="start" fill="#6cb2d8" style="font-family:'Liberation Sans',sans-serif" >500</text>
<path d="M624.4,497.0 h-1.5" stroke="#6cb2d8" stroke-width="1"/>
<path d="M624.4,504.8 h-1.5" stroke="#6cb2d8" stroke-width="1"/>
<path d="M624.4,512.5 h-1.5" stroke="#6cb2d8" stroke-width="1"/>
<path d="M624.4,520.3 h-3.4" stroke="#6cb2d8" stroke-width="1.1"/>
<text x="628.2" y="526.1999999999999" font-size="17.0" text-anchor="start" fill="#6cb2d8" style="font-family:'Liberation Sans',sans-serif" >400</text>
<path d="M624.4,528.1 h-1.5" stroke="#6cb2d8" stroke-width="1"/>
<path d="M624.4,535.8 h-1.5" stroke="#6cb2d8" stroke-width="1"/>
<path d="M624.4,543.6 h-1.5" stroke="#6cb2d8" stroke-width="1"/>
<path d="M624.4,551.4 h-3.4" stroke="#6cb2d8" stroke-width="1.1"/>
<text x="628.2" y="557.3" font-size="17.0" text-anchor="start" fill="#6cb2d8" style="font-family:'Liberation Sans',sans-serif" >300</text>
<rect x="56.5" y="610.4" width="170.5" height="84.30000000000007" fill="#c9ebfc"/>
<rect x="227" y="610.4" width="174.5" height="84.30000000000007" fill="#e6f7fd"/>
<rect x="401.5" y="610.4" width="157.79999999999995" height="84.30000000000007" fill="#faecee"/>
<path d="M48.0,610.4 H567.2" stroke="#5a5a5a" stroke-width="0.9" fill="none"/>
<path d="M56.5,610.4 V694.7" stroke="#808080" stroke-width="0.8" fill="none"/>
<path d="M559.3,610.4 V694.7" stroke="#a0a0a0" stroke-width="0.9" fill="none"/>
<path d="M227,610.4 V694.7" stroke="#b4b8bb" stroke-width="0.8" fill="none"/>
<path d="M401.5,610.4 V694.7" stroke="#b4b8bb" stroke-width="0.8" fill="none"/>
<path d="M48.0,694.7 H567.2" stroke="#6a6a6a" stroke-width="1" fill="none"/>
<path d="M48.0,694.7 v-3.6" stroke="#555" stroke-width="0.9"/>
<path d="M90.6,694.7 v-2.2" stroke="#555" stroke-width="0.9"/>
<path d="M133.2,694.7 v-2.2" stroke="#555" stroke-width="0.9"/>
<path d="M175.9,694.7 v-3.6" stroke="#555" stroke-width="0.9"/>
<path d="M218.5,694.7 v-2.2" stroke="#555" stroke-width="0.9"/>
<path d="M261.1,694.7 v-2.2" stroke="#555" stroke-width="0.9"/>
<path d="M303.8,694.7 v-3.6" stroke="#555" stroke-width="0.9"/>
<path d="M346.4,694.7 v-2.2" stroke="#555" stroke-width="0.9"/>
<path d="M389.0,694.7 v-2.2" stroke="#555" stroke-width="0.9"/>
<path d="M431.6,694.7 v-3.6" stroke="#555" stroke-width="0.9"/>
<path d="M474.2,694.7 v-2.2" stroke="#555" stroke-width="0.9"/>
<path d="M516.9,694.7 v-2.2" stroke="#555" stroke-width="0.9"/>
<path d="M559.5,694.7 v-3.6" stroke="#555" stroke-width="0.9"/>
<text x="48.0" y="711.7" font-size="16.85" text-anchor="middle" fill="#000" style="font-family:'Liberation Sans',sans-serif" >1980</text>
<text x="175.9" y="711.7" font-size="16.85" text-anchor="middle" fill="#000" style="font-family:'Liberation Sans',sans-serif" >2010</text>
<text x="303.8" y="711.7" font-size="16.85" text-anchor="middle" fill="#000" style="font-family:'Liberation Sans',sans-serif" >2040</text>
<text x="431.6" y="711.7" font-size="16.85" text-anchor="middle" fill="#000" style="font-family:'Liberation Sans',sans-serif" >2070</text>
<text x="559.5" y="711.7" font-size="16.85" text-anchor="middle" fill="#000" style="font-family:'Liberation Sans',sans-serif" >2100</text>
<text x="307.8" y="727.1" font-size="17.0" text-anchor="middle" fill="#000" style="font-family:'Liberation Sans',sans-serif" letter-spacing="0.6">Year</text>
<text x="50.3" y="607.7" font-size="15.3" style="font-family:'Liberation Sans',sans-serif"><tspan font-weight="bold">d</tspan> Decrease — Decrease — Increase</text>
<path d="M48.6,610.4 V694.7" stroke="#93e06a" stroke-width="1.1" fill="none"/>
<path d="M49.0,621 h3.4" stroke="#93e06a" stroke-width="1.1"/>
<text x="44.5" y="626.9" font-size="17.0" text-anchor="end" fill="#93e06a" style="font-family:'Liberation Sans',sans-serif" >8</text>
<path d="M49.0,631.6 h1.5" stroke="#93e06a" stroke-width="1"/>
<path d="M49.0,642.2 h3.4" stroke="#93e06a" stroke-width="1.1"/>
<text x="44.5" y="648.1" font-size="17.0" text-anchor="end" fill="#93e06a" style="font-family:'Liberation Sans',sans-serif" >6</text>
<path d="M49.0,652.8 h1.5" stroke="#93e06a" stroke-width="1"/>
<path d="M49.0,663.3 h3.4" stroke="#93e06a" stroke-width="1.1"/>
<text x="44.5" y="669.1999999999999" font-size="17.0" text-anchor="end" fill="#93e06a" style="font-family:'Liberation Sans',sans-serif" >4</text>
<path d="M49.0,673.8 h1.5" stroke="#93e06a" stroke-width="1"/>
<path d="M49.0,684.3 h3.4" stroke="#93e06a" stroke-width="1.1"/>
<text x="44.5" y="690.1999999999999" font-size="17.0" text-anchor="end" fill="#93e06a" style="font-family:'Liberation Sans',sans-serif" >2</text>
<path d="M567.2,610.4 V694.7" stroke="#eda535" stroke-width="1.2" fill="none"/>
<path d="M567.2,610.9 h-3.4" stroke="#eda535" stroke-width="1.1"/>
<text x="571.5" y="616.8" font-size="17.0" text-anchor="start" fill="#eda535" style="font-family:'Liberation Sans',sans-serif" >8</text>
<path d="M567.2,627.5 h-1.5" stroke="#eda535" stroke-width="1"/>
<path d="M567.2,644.2 h-3.4" stroke="#eda535" stroke-width="1.1"/>
<text x="571.5" y="650.1" font-size="17.0" text-anchor="start" fill="#eda535" style="font-family:'Liberation Sans',sans-serif" >6</text>
<path d="M567.2,661.2 h-1.5" stroke="#eda535" stroke-width="1"/>
<path d="M567.2,678.3 h-3.4" stroke="#eda535" stroke-width="1.1"/>
<text x="571.5" y="684.1999999999999" font-size="17.0" text-anchor="start" fill="#eda535" style="font-family:'Liberation Sans',sans-serif" >4</text>
<path d="M624.4,610.4 V694.7" stroke="#6cb2d8" stroke-width="1.2" fill="none"/>
<path d="M624.4,610.9 h-3.4" stroke="#6cb2d8" stroke-width="1.1"/>
<text x="628.2" y="616.8" font-size="17.0" text-anchor="start" fill="#6cb2d8" style="font-family:'Liberation Sans',sans-serif" >210</text>
<path d="M624.4,624.9 h-1.5" stroke="#6cb2d8" stroke-width="1"/>
<path d="M624.4,639.0 h-1.5" stroke="#6cb2d8" stroke-width="1"/>
<path d="M624.4,653 h-3.4" stroke="#6cb2d8" stroke-width="1.1"/>
<text x="628.2" y="658.9" font-size="17.0" text-anchor="start" fill="#6cb2d8" style="font-family:'Liberation Sans',sans-serif" >110</text>
<path d="M624.4,666.9 h-1.5" stroke="#6cb2d8" stroke-width="1"/>
<path d="M624.4,680.8 h-1.5" stroke="#6cb2d8" stroke-width="1"/>
<path d="M624.4,694.7 h-3.4" stroke="#6cb2d8" stroke-width="1.1"/>
<text x="628.2" y="700.6" font-size="17.0" text-anchor="start" fill="#6cb2d8" style="font-family:'Liberation Sans',sans-serif" >10</text>
<text transform="translate(20.2,516.3) rotate(-90)" text-anchor="middle" font-size="16.75" fill="#93e06a" style="font-family:'Liberation Sans',sans-serif">Vegetation cover (%)</text>
<text transform="translate(603.8,516) rotate(-90)" text-anchor="middle" font-size="16.75" fill="#eda535" style="font-family:'Liberation Sans',sans-serif">Temperature (°C)</text>
<text transform="translate(673.5,515.7) rotate(-90)" text-anchor="middle" font-size="16.75" fill="#6cb2d8" style="font-family:'Liberation Sans',sans-serif">Precipitation (mm)</text>
<clipPath id="cb"><rect x="47" y="338.2" width="513" height="83.8"/></clipPath>
<g clip-path="url(#cb)">
<polyline points="56.6,380.5 60.4,382.3 65.5,398.4 69.4,403.5 74.5,397.6 78.3,388.6 82.2,387.4 86.0,387.9 91.1,403.5 94.9,395.0 99.3,393.8 103.4,374.6 106.9,404.0 111.5,404.0 116.1,393.8 120.5,415.5 124.3,379.7 128.1,397.6 132.5,391.2 137.1,409.1 141.7,383.5 146.0,388.6 149.9,393.8 154.5,377.9 158.0,389.9 163.1,357.5 167.2,392.5 171.6,382.3 175.4,377.2 180.0,389.9 184.3,363.1" fill="none" stroke="#62afda" stroke-width="1.05" stroke-linejoin="round" stroke-linecap="round" />
<polyline points="196.4,383.5 200.7,382.3 205.3,395.0 209.9,379.7 214.3,372.0 218.1,374.6 227.0,392.5 231.4,381.5 235.5,389.9 239.8,350.3 243.6,377.2 252.6,383.5 257.7,382.3 265.4,377.9 269.2,374.6 274.3,376.4 278.1,373.8 283.2,384.8 286.6,374.6 291.7,392.5 299.3,361.3 303.7,370.8 307.5,366.2 316.5,387.4 320.8,386.1 325.4,373.8 333.1,365.7 338.2,383.5 346.4,366.9 350.9,368.7 354.8,365.7 358.6,366.4 365.0,387.4 367.8,378.4 371.6,369.5 375.4,372.0 380.5,384.8 384.4,361.8 389.5,384.8 395.9,370.8 401.0,388.6 409.9,359.3 417.6,369.5 425.3,363.1 431.6,375.9 436.8,364.4 444.4,363.1 452.1,381.0 455.9,364.4 459.7,365.7 465.4,389.9 473.8,361.8 477.1,373.3 482.2,346.5 486.6,378.4 491.7,360.5 495.5,377.2 500.1,350.3 504.5,365.7 510.8,351.6 516.5,344.7 521.1,363.1 525.7,383.5 530.0,370.8 533.5,391.4 538.1,367.2 541.9,372.3 545.8,382.5 550.9,386.3 554.7,358.2 558.5,358.2" fill="none" stroke="#62afda" stroke-width="1.05" stroke-linejoin="round" stroke-linecap="round" />
<polyline points="56.6,411.6 65.5,418.0 73.2,415.5 86.0,414.2 94.9,412.9 103.9,411.6 111.5,417.3 119.2,414.2 126.9,414.7 137.1,413.7 142.2,410.4 149.9,411.1 160.1,409.1 167.7,409.6 175.4,405.3 184.3,407.8" fill="none" stroke="#9be074" stroke-width="1.0" stroke-linejoin="round" stroke-linecap="round" />
<polyline points="196.4,404.0 205.3,407.8 214.3,405.3 223.2,398.9 230.9,405.3 235.5,402.7 239.8,411.6 251.3,400.1 256.9,406.5 261.5,403.5 269.2,401.9 274.3,396.3 278.1,400.1 282.5,396.3 286.6,398.9 290.9,389.9 294.7,395.8 299.9,391.7 307.5,393.8 316.5,389.9 325.4,391.2 329.2,395.8 333.1,388.6 345.8,388.6 350.9,386.1 355.5,396.3 361.2,387.4 365.0,388.6 367.8,382.3 375.4,383.5 384.4,379.7 390.8,382.3 395.9,377.2 406.1,381.0 417.6,373.3 422.7,379.7 430.4,368.2 434.2,375.9 441.9,370.8 452.1,366.9 459.7,368.2 467.4,368.2 473.0,360.5 477.6,365.7 487.8,363.1 494.2,368.2 500.6,368.2 508.3,363.1 518.5,359.3 530.0,358.0 535.5,368.4 541.9,360.8 548.3,363.3 554.7,359.5 558.5,358.2" fill="none" stroke="#9be074" stroke-width="1.0" stroke-linejoin="round" stroke-linecap="round" />
<polyline points="56.6,410.4 65.5,418.0 78.3,406.5 86.0,411.6 94.9,409.1 101.3,411.6 107.7,407.8 112.8,411.6 124.3,400.1 134.5,407.8 142.2,402.7 149.9,406.5 158.8,401.9 166.5,405.3 171.6,402.7 184.3,409.9" fill="none" stroke="#eea83a" stroke-width="5.2" stroke-linejoin="round" stroke-linecap="round" />
<polyline points="196.4,403.5 201.5,409.1 205.3,395.0 209.9,407.8 214.3,395.8 218.1,407.8 223.2,396.3 234.7,391.2 241.1,395.0 250.0,392.5 256.4,388.6 266.6,395.0 273.0,385.6 278.1,396.3 285.8,392.5 294.7,386.1 299.9,393.2 305.0,397.6 311.4,387.4 321.6,396.3 329.2,387.4 335.6,393.8 345.8,382.3 352.2,383.5 358.6,378.4 365.0,386.1 371.6,373.3 376.7,383.5 385.7,388.6 393.3,379.7 397.2,382.3 402.3,366.9 406.1,368.2 409.9,379.7 417.6,374.6 422.7,368.2 427.8,382.3 436.8,377.2 443.1,381.0 448.2,369.5 461.0,363.1 467.4,368.2 473.8,372.0 481.5,361.8 487.8,374.6 494.2,373.3 500.6,375.9 507.0,368.2 510.8,370.8 517.2,360.5 522.3,360.5 526.2,356.7 530.0,359.3 533.5,350.5 538.1,356.9 545.8,360.8 550.9,346.7 554.7,356.9 559.3,355.7" fill="none" stroke="#eea83a" stroke-width="5.2" stroke-linejoin="round" stroke-linecap="round" />
<path d="M56.6,412.4 L184.4,402.7" stroke="#8a5a1e" stroke-width="2.8" stroke-dasharray="9.5 9" fill="none"/>
<path d="M194.6,403.7 L559,358" stroke="#8a5a1e" stroke-width="2.8" stroke-dasharray="10.3 14.7" fill="none"/>
</g>
<clipPath id="cc"><rect x="47" y="474.7" width="513" height="83.7"/></clipPath>
<g clip-path="url(#cc)">
<polyline points="56.6,549.8 60.4,554.9 65.0,549.2 69.4,556.1 74.5,548.5 78.3,539.5 86.0,544.6 94.9,540.8 99.3,551.0 107.7,540.8 112.8,544.6 116.1,540.8 120.5,556.1 124.3,537.0 128.9,533.1 133.2,543.4 142.2,535.7 147.3,531.9 154.5,535.7 162.6,529.3 167.7,530.6 171.6,521.6 178.0,528.0 188.2,525.5 193.3,529.3 201.5,520.4 208.6,524.2 215.0,529.3 219.4,528.8 223.2,524.2 227.0,522.9" fill="none" stroke="#f0ae4a" stroke-width="1.0" stroke-linejoin="round" stroke-linecap="round" />
<polyline points="230.9,526.8 235.5,520.4 244.9,515.3 252.6,521.6 256.9,506.3 265.4,515.3 273.0,521.6 278.1,511.4 282.5,519.1 286.6,516.5 291.7,503.8 299.9,506.3 303.7,521.6 308.0,511.4 312.1,515.3 316.5,508.9 324.9,512.7 329.2,517.8 333.6,491.0 338.2,511.4 342.0,493.5 346.4,512.7 354.8,517.8 358.6,508.9 365.0,511.4 371.6,516.5 376.7,501.2 384.4,517.8 389.5,507.6 397.2,479.5 401.5,485.9 409.9,493.5 418.4,514.0 422.7,503.8 426.5,510.2 431.1,501.2 435.5,514.0 443.1,505.0 452.1,510.2 457.2,515.3 465.4,511.4 473.8,501.2 482.7,494.8 486.6,498.7 490.9,489.7 495.0,501.2 503.2,503.8 508.3,512.7 516.5,511.4 523.6,501.2 530.0,503.8 533.5,500.9 537.6,518.8 541.9,503.4 545.8,512.4 550.9,498.3 559.3,504.7" fill="none" stroke="#f0ae4a" stroke-width="1.0" stroke-linejoin="round" stroke-linecap="round" />
<polyline points="56.6,540.8 65.5,539.5 73.2,542.1 77.8,552.3 82.2,526.8 86.5,531.9 91.1,528.0 94.9,537.0 103.9,539.5 112.0,544.6 116.1,542.1 121.2,543.4 128.9,535.7 133.2,528.0 138.4,530.6 144.7,528.0 149.9,514.0 158.8,525.5 162.6,528.0 171.6,519.1 175.9,501.2 180.0,519.1 188.2,505.0 192.8,528.0 197.1,521.6 201.5,517.8 206.1,510.2 215.0,506.3 219.4,498.7 227.0,491.5" fill="none" stroke="#9be074" stroke-width="1.0" stroke-linejoin="round" stroke-linecap="round" />
<polyline points="230.9,522.9 235.5,522.9 239.8,510.2 244.9,501.2 249.3,503.8 256.9,506.3 261.5,501.2 269.7,506.3 278.1,503.8 283.2,503.8 291.7,487.2 297.3,488.4 303.7,498.7 312.1,477.7 316.5,491.0 320.8,485.9 329.2,491.0 333.6,482.1 338.2,489.7 342.0,478.2 346.4,493.5 350.4,478.7 358.6,491.0 365.0,487.2 367.8,483.8 376.7,496.1 384.4,483.8 393.3,492.3 398.4,480.8 406.1,493.5 409.9,482.1 416.3,483.3 421.9,496.1 426.5,488.4 431.1,497.4 443.1,491.0 448.2,497.4 457.2,483.3 465.4,494.8 473.8,496.1 482.7,487.2 490.9,496.1 495.0,487.2 503.2,493.5 512.1,491.0 521.1,508.9 526.2,491.0 530.0,501.2 533.5,506.0 541.9,498.3 550.9,500.9 559.3,503.4" fill="none" stroke="#9be074" stroke-width="1.0" stroke-linejoin="round" stroke-linecap="round" />
<polyline points="56.6,522.9 61.7,531.9 65.0,548.5 69.4,507.6 73.2,544.6 77.8,522.9 82.2,525.5 86.5,507.6 91.1,530.6 94.9,524.2 99.3,542.1 103.4,516.5 107.7,550.3 112.0,530.6 116.1,525.5 121.2,533.1 124.3,508.9 128.9,514.0 133.2,515.3 138.4,519.1 142.2,512.7 149.9,516.5 154.5,502.5 158.8,535.7 162.6,515.3 167.7,501.2 171.6,499.9 175.4,510.2 180.0,515.3 184.3,502.5 188.2,520.4 192.8,502.5 197.1,537.0 201.5,515.3 209.9,499.9 215.0,508.9 219.4,506.3 223.2,510.2 227.8,515.3" fill="none" stroke="#69acd3" stroke-width="4.7" stroke-linejoin="round" stroke-linecap="round" />
<polyline points="235.5,505.0 239.8,519.1 244.9,511.4 249.3,514.0 253.4,506.3 261.5,510.2 265.4,511.4 269.7,499.9 278.1,511.4 282.5,522.9 286.6,508.9 291.7,501.2 297.3,503.8 303.7,507.6 308.0,499.9 312.1,502.5 316.5,498.7 320.8,502.5 324.9,514.0 329.2,499.9 338.2,507.6 342.0,510.2 346.4,517.8 350.4,497.4 354.8,510.2 358.6,498.7 365.0,508.9 371.6,489.7 376.7,510.2 380.5,499.9 388.2,517.8 393.3,492.3 397.2,499.9 401.5,486.4 406.1,496.1 413.8,503.8 418.4,488.4 426.5,505.0 431.1,499.9 435.5,503.8 443.1,498.7 448.2,497.4 453.4,485.9 457.2,484.6 461.0,507.6 465.4,496.1 470.0,497.4 473.8,508.9 478.1,493.5 482.7,515.3 486.6,493.5 490.4,497.4 495.0,508.9 499.3,505.0 503.7,520.4 508.3,496.1 512.1,493.5 516.5,511.4 520.5,496.1 524.9,482.1 530.0,496.1 533.5,504.7 538.1,509.8 541.9,500.9 545.8,506.0 549.6,499.6 554.7,508.5 559.3,503.4" fill="none" stroke="#69acd3" stroke-width="4.7" stroke-linejoin="round" stroke-linecap="round" />
<path d="M56.6,531 L223,505.5" stroke="#1c1cd8" stroke-width="2.8" stroke-dasharray="9.5 10.4" fill="none"/>
<path d="M231,507.6 L548,500.2" stroke="#1c1cd8" stroke-width="2.8" stroke-dasharray="9.5 15.9" fill="none"/>
</g>
<clipPath id="cd"><rect x="47" y="610.9" width="513" height="83.5"/></clipPath>
<g clip-path="url(#cd)">
<polyline points="56.6,654.8 60.4,677.8 65.5,676.5 69.4,686.8 73.2,679.1 77.8,648.4 82.2,663.8 86.5,667.6 91.1,674.0 94.9,662.5 99.3,658.6 103.4,652.3 107.7,676.5 112.0,658.6 116.1,638.2 120.5,679.1 124.3,658.6 128.9,672.7 133.2,675.3 138.4,659.9 142.2,648.4 146.0,648.4 150.4,657.4 154.5,643.3 158.8,666.3 163.1,672.7 167.2,668.9 171.6,674.0 175.9,615.2 180.0,652.3 184.3,653.5 188.7,649.7 192.8,665.0 197.1,659.9 201.5,644.6 206.1,636.9 209.9,645.9 215.0,652.3 219.4,654.8 223.2,658.6 227.0,652.3" fill="none" stroke="#62afda" stroke-width="1.05" stroke-linejoin="round" stroke-linecap="round" />
<polyline points="231.4,659.9 239.8,654.8 248.8,659.9 256.9,654.8 265.4,659.9 274.3,658.6 283.2,659.9 291.7,657.4 299.9,653.5 303.7,661.2 312.1,656.1 320.8,652.3 329.2,662.5 338.2,656.1 346.4,657.4 354.8,654.8 365.0,653.5 371.6,657.4 380.5,656.1 388.2,659.9 393.3,653.5 397.2,657.4 401.5,654.8 409.9,656.1 418.4,647.2 426.5,652.3 431.1,657.4 439.3,659.9 448.2,666.3 456.7,659.9 464.9,661.2 469.5,653.5 478.1,662.5 486.6,652.3 495.0,657.4 499.3,654.8 503.7,663.8 512.1,653.5 521.1,652.3 524.9,662.5 530.0,657.4 538.1,658.9 541.9,655.0 548.3,656.3 554.7,651.2 559.3,655.0" fill="none" stroke="#62afda" stroke-width="1.05" stroke-linejoin="round" stroke-linecap="round" />
<polyline points="56.6,681.1 60.4,681.6 65.5,686.8 69.4,679.1 73.2,681.6 78.3,679.1 82.2,680.4 86.5,681.6 89.8,672.7 94.9,685.5 103.9,681.6 107.7,674.0 112.0,686.8 116.1,688.0 120.5,671.4 128.9,667.6 137.1,670.1 144.7,674.0 149.9,668.9 154.5,675.3 162.6,661.2 167.2,674.0 171.6,665.0 180.0,671.4 184.3,681.6 188.7,665.0 192.8,674.0 197.1,663.8 201.5,659.9 209.9,670.1 215.0,665.0 223.2,667.6 227.0,659.9" fill="none" stroke="#f0ae4a" stroke-width="1.0" stroke-linejoin="round" stroke-linecap="round" />
<polyline points="231.4,663.8 239.8,666.3 248.8,657.4 256.9,656.1 261.5,643.3 269.7,645.9 274.3,663.8 282.5,638.2 287.1,659.9 291.7,663.8 295.3,639.5 299.9,654.8 308.0,662.5 312.1,662.5 316.5,647.2 320.8,638.2 325.4,654.8 333.6,652.3 342.0,659.9 346.4,652.3 354.8,626.7 358.6,631.8 361.2,656.1 365.0,648.4 371.6,643.3 375.9,642.0 380.5,659.9 384.4,625.4 389.5,640.8 397.2,619.1 401.5,647.2 409.9,629.3 414.3,630.5 418.4,638.2 422.7,642.0 431.1,630.5 435.5,640.8 439.3,628.0 447.5,636.9 452.1,656.1 456.7,671.4 464.9,662.5 469.5,648.4 478.1,634.4 482.7,647.2 490.9,649.7 499.3,642.0 507.8,630.5 512.1,640.8 521.1,621.6 524.9,628.0 530.0,658.6 533.5,626.9 538.1,638.4 541.9,661.4 545.8,661.4 550.9,635.9 554.7,642.3 559.3,635.9" fill="none" stroke="#f0ae4a" stroke-width="1.0" stroke-linejoin="round" stroke-linecap="round" />
<polyline points="56.6,689.3 65.5,685.5 70.7,690.6 78.3,682.9 86.0,680.4 91.1,681.6 99.3,677.8 103.4,680.4 107.7,676.5 112.0,680.4 119.2,679.1 124.3,674.0 129.4,677.8 134.5,679.1 138.4,667.6 146.0,663.8 155.0,658.6 158.8,665.0 163.1,663.8 167.2,666.3 171.6,662.5 175.9,654.8 180.0,657.4 184.3,651.0 192.8,657.4 201.5,652.3 206.1,647.2 209.9,651.0 215.0,652.3 219.4,651.0 227.0,652.3" fill="none" stroke="#8fd95c" stroke-width="5.2" stroke-linejoin="round" stroke-linecap="round" />
<polyline points="231.4,645.9 235.5,668.9 239.8,652.3 244.2,667.6 248.8,659.9 256.9,643.3 265.4,677.8 269.7,665.0 278.1,654.8 282.5,644.6 286.6,652.3 291.7,658.6 299.9,643.3 303.7,656.1 312.1,640.8 316.5,636.9 320.8,652.3 329.2,658.6 333.6,657.4 338.2,659.9 342.0,653.5 346.4,656.1 350.4,645.9 354.8,644.6 358.6,654.8 365.0,645.9 367.8,653.5 371.6,645.9 375.9,633.1 380.5,648.4 384.4,643.3 388.2,644.6 393.3,638.2 397.2,640.8 401.5,625.4 406.1,643.3 413.8,651.0 418.4,638.2 422.7,644.6 431.1,651.0 439.3,665.0 447.5,639.5 452.1,652.3 457.2,647.2 464.9,657.4 469.5,640.8 473.8,647.2 478.1,663.8 486.6,648.4 490.9,630.5 499.3,658.6 507.8,640.8 512.1,653.5 521.1,668.9 526.2,665.0 530.0,665.0 538.1,655.0 541.9,656.3 548.3,660.1 554.7,670.4 559.3,651.2" fill="none" stroke="#8fd95c" stroke-width="5.2" stroke-linejoin="round" stroke-linecap="round" />
<path d="M56.6,690.6 L223,650" stroke="#476b22" stroke-width="2.8" stroke-dasharray="9.5 9.5" fill="none"/>
<path d="M231.4,660 L401.5,643.3" stroke="#476b22" stroke-width="2.8" stroke-dasharray="9.5 11" fill="none"/>
<path d="M401.5,643.3 L559,660.5" stroke="#476b22" stroke-width="2.8" stroke-dasharray="9.5 11" fill="none"/>
</g>
<path d="M107.5,741.8 H141.7" stroke="#9fe077" stroke-width="1.7"/>
<text x="145.3" y="746.0" font-size="14.65" text-anchor="start" fill="#000" style="font-family:'Liberation Sans',sans-serif" >Vegetation</text>
<path d="M245.9,741.8 H280.2" stroke="#f0b04c" stroke-width="1.6"/>
<text x="285.3" y="746.0" font-size="14.65" text-anchor="start" fill="#000" style="font-family:'Liberation Sans',sans-serif" >Temperature</text>
<path d="M399.3,741.8 H433" stroke="#62aada" stroke-width="1.6"/>
<text x="437.6" y="746.0" font-size="14.5" text-anchor="start" fill="#000" style="font-family:'Liberation Sans',sans-serif" >Precipitation</text>
</svg>
</body></html>
